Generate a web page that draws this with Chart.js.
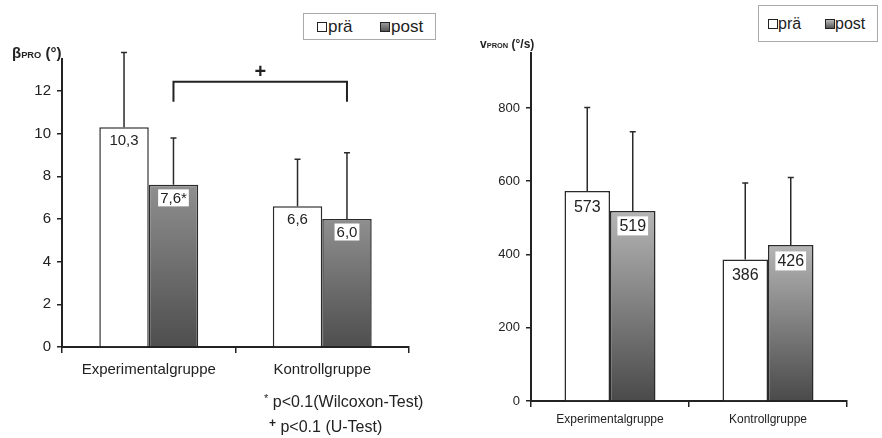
<!DOCTYPE html>
<html><head><meta charset="utf-8">
<script src="https://cdn.jsdelivr.net/npm/chart.js@4.4.0/dist/chart.umd.min.js"></script>
<style>
body{margin:0;background:#fff;width:882px;height:438px;overflow:hidden;position:relative;font-family:"Liberation Sans",Arial,sans-serif;color:#222}
canvas{position:absolute;top:0}
#c1{left:0}
#c2{left:441px}
.legend{position:absolute;border:1px solid #aaa;background:#fff;box-sizing:border-box;white-space:nowrap}
.legend span.t{position:absolute;top:50%;transform:translateY(-52%)}
.mk{position:absolute;top:50%;transform:translateY(-50%);width:10px;height:10px;border:1px solid #222;box-sizing:border-box}
.txt{position:absolute;white-space:nowrap}
sub{font-size:62%;vertical-align:baseline;position:relative;top:0}
</style>
</head><body>
<canvas id="c1" width="441" height="438"></canvas>
<canvas id="c2" width="441" height="438"></canvas>

<div class="legend" style="left:303px;top:13px;width:133px;height:27px;font-size:17px">
  <div class="mk" style="left:13px;background:#fff"></div><span class="t" style="left:24px">prä</span>
  <div class="mk" style="left:76px;background:linear-gradient(#999,#555)"></div><span class="t" style="left:87px">post</span>
</div>
<div class="legend" style="left:758px;top:5px;width:120px;height:37px;font-size:16px">
  <div class="mk" style="left:9px;background:#fff"></div><span class="t" style="left:19px">prä</span>
  <div class="mk" style="left:66px;background:linear-gradient(#bbb,#555)"></div><span class="t" style="left:76px">post</span>
</div>

<div class="txt" style="left:12px;top:44px;font-size:15px;font-weight:bold">β<sub>PRO</sub> (°)</div>
<div class="txt" style="left:480px;top:37px;font-size:12px;font-weight:bold">v<sub>PRON</sub> (°/s)</div>

<div class="txt" style="left:264px;top:393px;font-size:16px"><span style="font-size:11px;position:relative;top:-5px">*</span> p&lt;0.1(Wilcoxon-Test)</div>
<div class="txt" style="left:269px;top:418px;font-size:16px"><span style="font-size:12px;font-weight:bold;position:relative;top:-5px">+</span> p&lt;0.1 (U-Test)</div>

<script>
// ---------- data ----------
const categories = ['Experimentalgruppe', 'Kontrollgruppe'];
const seriesNames = ['prä', 'post'];

const betaPre = [10.3, 6.6];
const betaPost = [7.6, 6.0];
const betaPreSD = [3.5, 2.2];
const betaPostSD = [2.2, 3.1];
const betaPostMarks = ['*', ''];
const betaTicks = [0, 2, 4, 6, 8, 10, 12];

const vPre = [573, 386];
const vPost = [519, 426];
const vPreSD = [228, 209];
const vPostSD = [216, 184];
const vTicks = [0, 200, 400, 600, 800];

// ---------- helpers ----------
function postGradient(top, bottom) {
  return function (c) {
    const chart = c.chart;
    const ys = chart.scales && chart.scales.y;
    if (!ys || !chart.chartArea) return '#777';
    const yTop = ys.getPixelForValue(c.raw);
    const yBot = ys.getPixelForValue(0);
    const g = chart.ctx.createLinearGradient(0, yTop, 0, yBot);
    g.addColorStop(0, top);
    g.addColorStop(1, bottom);
    return g;
  };
}

const errorBarPlugin = {
  id: 'errbars',
  afterDatasetsDraw(chart) {
    const ctx = chart.ctx, y = chart.scales.y;
    ctx.save();
    ctx.strokeStyle = '#2a2a2a';
    ctx.lineWidth = 1.5;
    chart.data.datasets.forEach((ds, i) => {
      const meta = chart.getDatasetMeta(i);
      meta.data.forEach((bar, j) => {
        const top = y.getPixelForValue(ds.data[j] + ds.sd[j]);
        ctx.beginPath();
        ctx.moveTo(bar.x, bar.y);
        ctx.lineTo(bar.x, top);
        ctx.moveTo(bar.x - 3, top);
        ctx.lineTo(bar.x + 3, top);
        ctx.stroke();
      });
    });
    ctx.restore();
  }
};

const valueLabelPlugin = {
  id: 'vlabels',
  afterDatasetsDraw(chart, args, opts) {
    const ctx = chart.ctx;
    ctx.save();
    ctx.font = opts.font;
    ctx.textAlign = 'center';
    ctx.textBaseline = 'middle';
    chart.data.datasets.forEach((ds, i) => {
      const meta = chart.getDatasetMeta(i);
      meta.data.forEach((bar, j) => {
        const txt = opts.format(ds.data[j]) + (ds.marks ? ds.marks[j] : '');
        const cy = bar.y + opts.offset[i][j];
        const w = ctx.measureText(txt).width;
        if (i === 1) {
          ctx.fillStyle = '#fff';
          ctx.fillRect(bar.x - w / 2 - 2, cy - opts.boxH / 2, w + 4, opts.boxH);
        }
        ctx.fillStyle = '#222';
        ctx.fillText(txt, bar.x, cy + 1);
      });
    });
    ctx.restore();
  }
};

const bracketPlugin = {
  id: 'bracket',
  afterDatasetsDraw(chart, args, opts) {
    if (!opts || !opts.show) return;
    const ctx = chart.ctx, y = chart.scales.y;
    const meta = chart.getDatasetMeta(opts.dataset);
    const x1 = meta.data[0].x, x2 = meta.data[1].x;
    const yt = y.getPixelForValue(opts.top), yb = y.getPixelForValue(opts.bottom);
    ctx.save();
    ctx.strokeStyle = '#222';
    ctx.lineWidth = 2;
    ctx.beginPath();
    ctx.moveTo(x1, yb); ctx.lineTo(x1, yt); ctx.lineTo(x2, yt); ctx.lineTo(x2, yb);
    ctx.stroke();
    ctx.fillStyle = '#222';
    ctx.font = 'bold 20px "Liberation Sans", Arial, sans-serif';
    ctx.textAlign = 'center';
    ctx.textBaseline = 'middle';
    ctx.fillText('+', (x1 + x2) / 2, yt - 9);
    ctx.restore();
  }
};

function makeChart(id, cfg) {
  return new Chart(document.getElementById(id), {
    type: 'bar',
    data: {
      labels: categories,
      datasets: [
        { label: seriesNames[0], data: cfg.pre, sd: cfg.preSD, backgroundColor: '#fff', borderColor: '#2a2a2a', borderWidth: 1.5,
          categoryPercentage: cfg.catPct, barPercentage: 1 },
        { label: seriesNames[1], data: cfg.post, sd: cfg.postSD, marks: cfg.postMarks,
          backgroundColor: postGradient(cfg.gTop, cfg.gBot), borderColor: '#2a2a2a', borderWidth: 1.5,
          categoryPercentage: cfg.catPct, barPercentage: 1 }
      ]
    },
    options: {
      responsive: false,
      animation: false,
      layout: { padding: cfg.padding },
      plugins: {
        legend: { display: false },
        tooltip: { enabled: false },
        vlabels: { font: cfg.labelFont, format: cfg.format, offset: cfg.labelOffset, boxH: cfg.boxH },
        bracket: cfg.bracket || { show: false }
      },
      scales: {
        x: {
          grid: { display: true, drawOnChartArea: false, drawTicks: true, tickLength: 6, color: '#222', lineWidth: 1.5, offset: true },
          border: { display: true, color: '#222', width: 2 },
          ticks: { color: '#222', font: cfg.xFont, padding: cfg.xPad, maxRotation: 0 },
          afterFit(s) { s.height = cfg.xHeight; }
        },
        y: {
          min: 0, max: cfg.max,
          afterBuildTicks(s) { s.ticks = cfg.ticks.map(v => ({ value: v })); },
          grid: { display: true, drawOnChartArea: false, drawTicks: true, tickLength: 5, color: '#222', lineWidth: 1.5 },
          border: { display: true, color: '#222', width: 2 },
          ticks: { color: '#222', font: cfg.yFont, padding: cfg.yPad },
          afterFit(s) { s.width = cfg.yWidth; }
        }
      }
    },
    plugins: [errorBarPlugin, valueLabelPlugin, bracketPlugin]
  });
}

makeChart('c1', {
  pre: betaPre, post: betaPost, preSD: betaPreSD, postSD: betaPostSD, postMarks: betaPostMarks,
  ticks: betaTicks, max: 13.5, catPct: 0.57,
  gTop: '#8f8f8f', gBot: '#4e4e4e',
  padding: { left: 0, right: 32, top: 59, bottom: 46 },
  yWidth: 62, xHeight: 45, xPad: 8, yPad: 6,
  xFont: { family: '"Liberation Sans", Arial, sans-serif', size: 15 },
  yFont: { family: '"Liberation Sans", Arial, sans-serif', size: 15 },
  labelFont: '15px "Liberation Sans", Arial, sans-serif',
  format: v => v.toFixed(1).replace('.', ','),
  labelOffset: [[13, 13], [13, 13]],
  boxH: 17,
  bracket: { show: true, dataset: 1, top: 12.43, bottom: 11.5 }
});

makeChart('c2', {
  pre: vPre, post: vPost, preSD: vPreSD, postSD: vPostSD, postMarks: ['', ''],
  ticks: vTicks, max: 950, catPct: 0.576,
  gTop: '#b5b5b5', gBot: '#4a4a4a',
  padding: { left: 0, right: 35, top: 53, bottom: 7 },
  yWidth: 90, xHeight: 30, xPad: 5, yPad: 6,
  xFont: { family: '"Liberation Sans", Arial, sans-serif', size: 12 },
  yFont: { family: '"Liberation Sans", Arial, sans-serif', size: 13 },
  labelFont: '16px "Liberation Sans", Arial, sans-serif',
  format: v => String(v),
  labelOffset: [[15, 15], [15, 16]],
  boxH: 19
});
</script>
</body></html>
